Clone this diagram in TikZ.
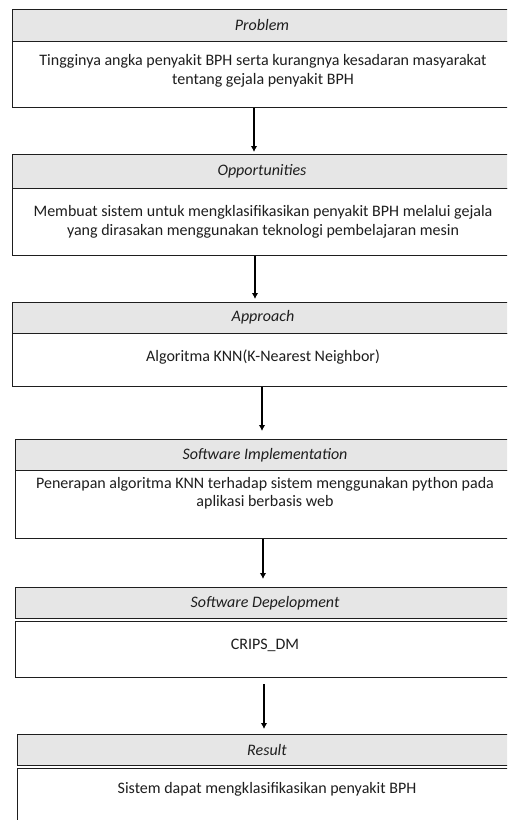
\documentclass[tikz,border=0pt]{standalone}
\usepackage{fontspec}
\setmainfont{Carlito}
\usetikzlibrary{arrows.meta}
\definecolor{hdrgray}{HTML}{E6E6E6}
\definecolor{inkc}{HTML}{1E1E1E}
\tikzset{
  hdr/.style={draw=inkc, line width=1.4pt, fill=hdrgray, anchor=north west, inner sep=0pt, minimum width=540pt, minimum height=32pt},
  hdrtxt/.style={inner sep=0pt, text=inkc, font=\fontsize{16}{18}\selectfont\itshape},
  bodybox/.style={draw=inkc, line width=1.4pt, fill=white, anchor=north west, inner sep=0pt, minimum width=540pt},
  bodytxt/.style={anchor=center, align=center, inner sep=0pt, text=inkc, font=\fontsize{16}{18.5}\selectfont},
  arr/.style={draw=black, line width=2.5pt, -{Latex[length=6pt,width=6.5pt]}}
}
\begin{document}
\begin{tikzpicture}[x=1pt,y=-1pt]
\useasboundingbox (0,0) rectangle (507,820);
\clip (0,0) rectangle (507,820);
\fill[white] (0,0) rectangle (507,820);
% Box 1
\node[hdr] (h1) at (12,9) {};
\node[hdrtxt] (t1) at (262,25) {Problem};
\node[bodybox, minimum height=66pt] (b1) at (12,41) {};
\node[bodytxt] (c1) at (263,71) {Tingginya angka penyakit BPH serta kurangnya kesadaran masyarakat\\tentang gejala penyakit BPH};
% Box 2
\node[hdr, minimum height=34pt] (h2) at (12,154) {};
\node[hdrtxt] (t2) at (262,171) {Opportunities};
\node[bodybox, minimum height=67pt] (b2) at (12,188) {};
\node[bodytxt] (c2) at (263,222) {Membuat sistem untuk mengklasifikasikan penyakit BPH melalui gejala\\yang dirasakan menggunakan teknologi pembelajaran mesin};
% Box 3
\node[hdr, minimum height=31pt] (h3) at (12,302) {};
\node[hdrtxt] (t3) at (263,317) {Approach};
\node[bodybox, minimum height=53pt] (b3) at (12,333) {};
\node[bodytxt] (c3) at (263,357) {Algoritma KNN(K-Nearest Neighbor)};
% Box 4
\node[hdr, minimum height=31pt] (h4) at (15,439) {};
\node[hdrtxt] (t4) at (265,455) {Software Implementation};
\node[bodybox, minimum height=68pt] (b4) at (15,470) {};
\node[bodytxt] (c4) at (265,493) {Penerapan algoritma KNN terhadap sistem menggunakan python pada\\aplikasi berbasis web};
% Box 5
\node[hdr, minimum height=31pt] (h5) at (15,587) {};
\node[hdrtxt] (t5) at (265,603) {Software Depelopment};
\node[bodybox, minimum height=56pt] (b5) at (15,621) {};
\node[bodytxt] (c5) at (265,645) {CRIPS\_DM};
% Box 6
\node[hdr, minimum height=31pt] (h6) at (17,734) {};
\node[hdrtxt] (t6) at (267,750) {Result};
\node[bodybox, minimum height=70pt] (b6) at (17,768) {};
\node[bodytxt] (c6) at (267,789) {Sistem dapat mengklasifikasikan penyakit BPH};
% Arrow x positions
\coordinate (x1) at (254,0);
\coordinate (x2) at (255,0);
\coordinate (x3) at (262,0);
\coordinate (x4) at (263,0);
\coordinate (x5) at (264,0);
\draw[arr, shorten >=2pt] (x1 |- b1.south) -- (x1 |- h2.north);
\draw[arr, shorten >=3pt] (x2 |- b2.south) -- (x2 |- h3.north);
\draw[arr, shorten >=8pt] (x3 |- b3.south) -- (x3 |- h4.north);
\draw[arr, shorten >=8pt] (x4 |- b4.south) -- (x4 |- h5.north);
\draw[arr, shorten <=6pt, shorten >=5pt] (x5 |- b5.south) -- (x5 |- h6.north);
\end{tikzpicture}
\end{document}
